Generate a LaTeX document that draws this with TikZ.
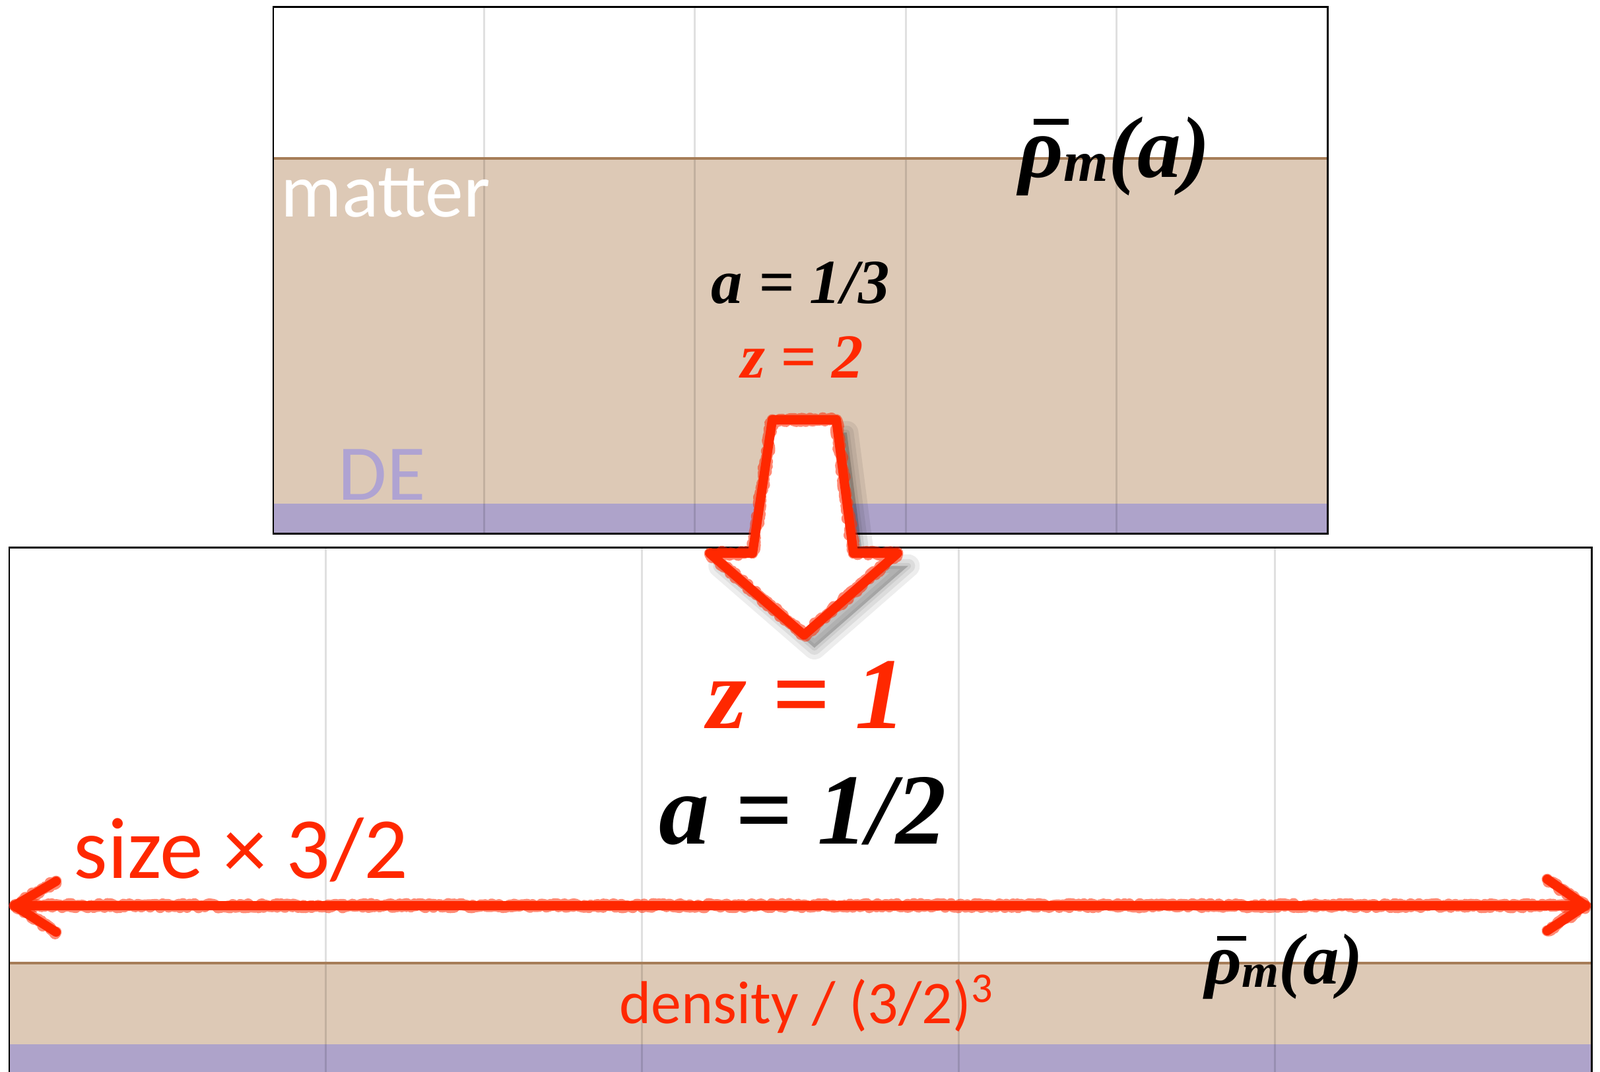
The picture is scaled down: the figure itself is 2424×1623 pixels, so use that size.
\documentclass[tikz,border=0pt]{standalone}
\usepackage{graphicx}
\usepackage{fontspec}
\setmainfont{Liberation Serif}
\newfontfamily\gillfont{Carlito}
\usetikzlibrary{calc,decorations.pathmorphing}
\definecolor{matterfill}{RGB}{221,201,182}
\definecolor{matterbrown}{RGB}{166,125,88}
\definecolor{defill}{RGB}{174,163,202}
\definecolor{detext}{RGB}{175,163,210}
\definecolor{slidered}{RGB}{255,40,0}
\tikzset{
  panel/.style={draw=black, line width=0.85pt},
  mline/.style={draw=matterbrown, line width=1.3pt},
  gridline/.style={draw=black, opacity=0.12, line width=0.8pt},
  sanslabel/.style={font=\gillfont\fontsize{#1}{#1}\selectfont, inner sep=0pt, anchor=base west},
  eqlabel/.style={font=\bfseries\itshape\fontsize{#1}{#1}\selectfont, inner sep=0pt, anchor=base},
  chalk/.style={draw=slidered, line width=4pt, line join=round, line cap=round,
    postaction={draw=slidered, line width=4.8pt, opacity=0.55, line join=round, line cap=round,
      decorate, decoration={random steps, segment length=0.8pt, amplitude=0.9pt}}},
  shadowlayer/.style={preaction={draw=black, fill=black, line width=#1, opacity=0.07,
      line join=round, transform canvas={xshift=4.5pt, yshift=-5.5pt}}},
  softshadow/.style={shadowlayer=10pt, shadowlayer=6pt, shadowlayer=2.5pt}
}
\newcommand{\rhobar}{\rlap{\kern0.17em\rule[0.6em]{0.4em}{0.065em}}ρ}
\newcommand{\rhom}{\rhobar\raisebox{-0.05em}{\scalebox{0.66}{m}}(a)}

\begin{document}
\begin{tikzpicture}[x=0.01cm, y=-0.01cm]
  \useasboundingbox (0,0) rectangle (2424,1623);
  \clip (0,0) rectangle (2424,1623);
  % upper snapshot, z = 2
  \fill[matterfill] (414,240) rectangle (2011,763);
  \fill[defill] (414,763) rectangle (2011,808);
  \foreach \gx in {1,...,4}
    \draw[gridline] ({414+\gx*319.4},10) -- ({414+\gx*319.4},808);
  \draw[mline] (414,240) -- (2011,240);
  \draw[panel] (414,10) rectangle (2011,808);
  % lower snapshot, z = 1
  \fill[matterfill] (14,1459) rectangle (2411,1582);
  \fill[defill] (14,1582) rectangle (2411,1650);
  \foreach \gx in {1,...,4}
    \draw[gridline] ({14+\gx*479.4},829) -- ({14+\gx*479.4},1650);
  \draw[mline] (14,1459) -- (2411,1459);
  \draw[panel] (14,829) rectangle (2411,1660);

  \node[sanslabel=32.9pt, white] (matter) at (425,328) {matter};
  \node[sanslabel=34pt, detext] (de) at (512,757) {DE};
  \node[eqlabel=37.5pt, anchor=base west] (rhotop) at (1543,268) {\rhom};
  \node[eqlabel=27pt] (athird) at (1213,459) {a = 1/3};
  \node[eqlabel=27pt, slidered] (ztwo) at (1215,572) {z = 2};

  % hand drawn arrow between the two snapshots
  \draw[softshadow, chalk, fill=white]
    (1170,636) -- (1267,636) -- (1293,838) -- (1360,838) -- (1218,962)
    -- (1075,838) -- (1140,838) -- cycle;

  \node[eqlabel=43.8pt, slidered] (zone) at (1222,1103) {z = 1};
  \node[eqlabel=43.4pt] (ahalf) at (1216,1278) {a = 1/2};
  \node[sanslabel=37.5pt, slidered] (size) at (111,1330) {size × 3/2};

  \coordinate (sizeL) at (22,1372);
  \coordinate (sizeR) at (2402,1372);
  \draw[chalk] (sizeL) -- (sizeR);
  \draw[chalk] ($(sizeL)+(63,-37)$) -- (sizeL) -- ($(sizeL)+(63,40)$);
  \draw[chalk] ($(sizeR)+(-58,-40)$) -- (sizeR) -- ($(sizeR)+(-58,38)$);

  \node[eqlabel=31pt, anchor=base west] (rhobot) at (1825,1490) {\rhom};
  \node[sanslabel=26.1pt, slidered] (density) at (938,1550) {density / (3/2)\textsuperscript{3}};
\end{tikzpicture}
\end{document}
